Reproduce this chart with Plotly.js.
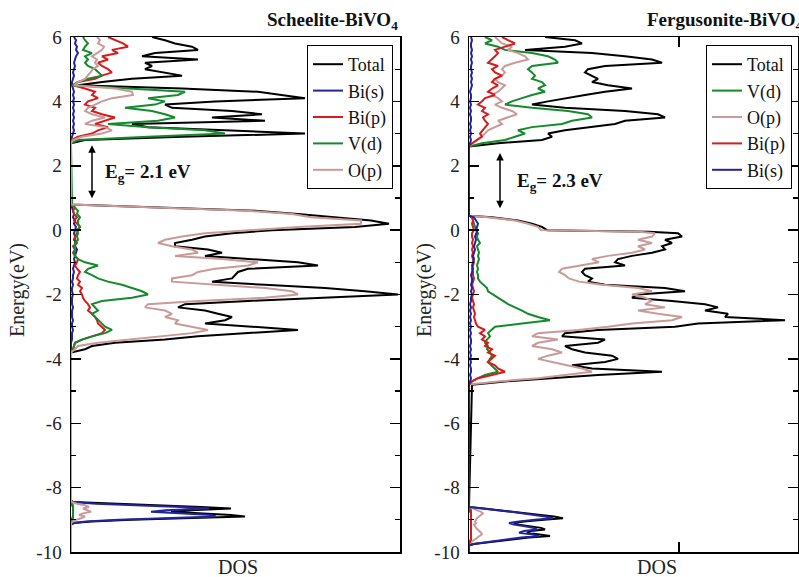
<!DOCTYPE html>
<html>
<head>
<meta charset="utf-8">
<script src="https://cdn.plot.ly/plotly-3.0.1.min.js"></script>
<style>html,body{margin:0;padding:0;background:#fff;}#plot{width:799px;height:577px;}</style>
</head>
<body>
<div id="plot"></div>
<script>
// ---------- Energy grids (eV) ----------
const E_L_BOT = [-9.15,-9.10,-9.05,-9.00,-8.95,-8.90,-8.85,-8.80,-8.75,-8.70,-8.65,-8.60,-8.55,-8.50,-8.45,-8.40];
const E_L_VB = [-3.8,-3.7,-3.6,-3.5,-3.4,-3.3,-3.2,-3.1,-3.0,-2.9,-2.8,-2.7,-2.6,-2.5,-2.4,-2.3,-2.2,-2.1,-2.0,-1.9,-1.8,-1.7,-1.6,-1.5,-1.4,-1.3,-1.2,-1.1,-1.0,-0.9,-0.8,-0.7,-0.6,-0.5,-0.4,-0.3,-0.2,-0.1,0.0,0.1,0.2,0.3,0.4,0.5,0.6,0.7,0.8];
const E_L_CB = [2.7,2.8,2.9,3.0,3.1,3.2,3.3,3.4,3.5,3.6,3.7,3.8,3.9,4.0,4.1,4.2,4.3,4.4,4.5,4.6,4.7,4.8,4.9,5.0,5.1,5.2,5.3,5.4,5.5,5.6,5.7,5.8,5.9,6.0];

const E_R_BOT = [-9.80,-9.75,-9.70,-9.65,-9.60,-9.55,-9.50,-9.45,-9.40,-9.35,-9.30,-9.25,-9.20,-9.15,-9.10,-9.05,-9.00,-8.95,-8.90,-8.85,-8.80,-8.75,-8.70,-8.65,-8.60];
const E_R_VB = [-4.8,-4.7,-4.6,-4.5,-4.4,-4.3,-4.2,-4.1,-4.0,-3.9,-3.8,-3.7,-3.6,-3.5,-3.4,-3.3,-3.2,-3.1,-3.0,-2.9,-2.8,-2.7,-2.6,-2.5,-2.4,-2.3,-2.2,-2.1,-2.0,-1.9,-1.8,-1.7,-1.6,-1.5,-1.4,-1.3,-1.2,-1.1,-1.0,-0.9,-0.8,-0.7,-0.6,-0.5,-0.4,-0.3,-0.2,-0.1,-0.05,0.0,0.1,0.2,0.3,0.4,0.45];
const E_R_CB = [2.6,2.7,2.8,2.9,3.0,3.1,3.2,3.3,3.4,3.5,3.6,3.7,3.8,3.9,4.0,4.1,4.2,4.3,4.4,4.5,4.6,4.7,4.8,4.9,5.0,5.1,5.2,5.3,5.4,5.5,5.6,5.7,5.8,5.9,6.0];

// ---------- Scheelite-BiVO4 DOS (arb. units) ----------
const L_total_bot = [0,3,20,60,120,174,160,130,100,120,160,130,80,30,2,0];
const L_total_vb  = [0,14,21,44,94,127,181,227,181,134,154,161,147,134,107,114,177,261,327,294,254,194,141,161,164,167,177,247,227,181,134,151,137,104,104,121,134,161,201,284,318,300,267,227,184,94,0];
const L_total_cb  = [0,14,111,234,154,77,61,194,141,191,161,101,94,144,234,211,187,111,7,31,61,111,94,74,81,74,127,71,84,127,121,104,94,81];

const L_bis_bot = [0,2,15,48,100,145,140,110,80,95,138,110,65,25,2,0];
const L_bis_vb  = [0,0,0,0,1,1,1,2,1,1,2,1,1,1,2,1,1,1,2,1,1,2,1,2,2,3,2,3,4,3,4,5,6,4,5,3,4,3,4,5,3,4,2,3,2,1,0];
const L_bis_cb  = [0,0,1,2,3,2,3,2,3,2,3,2,3,2,3,2,3,2,1,1,2,3,2,3,4,3,4,5,7,5,6,4,5,3];

const L_bip_bot = [0,0,0,1,1,2,2,2,2,2,2,2,1,1,0,0];
const L_bip_vb  = [0,2,3,4,11,21,31,34,31,27,26,24,21,17,19,17,14,12,11,9,11,7,9,6,7,9,6,4,6,7,4,2,4,2,6,4,4,6,7,9,6,3,6,3,2,4,0];
const L_bip_cb  = [0,0,7,21,27,37,24,34,44,31,21,24,14,17,27,21,24,14,2,7,24,31,41,37,31,27,37,31,47,41,57,52,44,37];

const L_vd_bot = [0,0,0,1,2,2,2,2,2,2,2,2,2,1,0,0];
const L_vd_vb  = [0,2,3,4,11,21,34,41,34,31,27,24,21,27,24,21,31,61,77,71,61,51,37,27,21,14,17,27,14,7,4,3,4,4,4,7,6,7,6,9,7,7,9,6,7,4,1];
const L_vd_cb  = [0,7,77,154,134,77,37,87,104,94,81,54,84,94,77,107,114,61,1,7,17,31,27,24,17,14,17,14,21,12,14,17,14,12];

const L_op_bot = [0,0,2,5,10,14,8,12,20,16,12,18,14,6,1,0];
const L_op_vb  = [0,4,7,27,61,94,121,137,121,104,107,94,101,94,74,77,127,194,227,221,194,144,101,101,121,127,144,177,187,151,104,127,121,101,87,94,111,134,177,227,290,290,240,221,177,77,0];
const L_op_cb  = [0,2,11,31,41,34,14,21,34,21,14,17,24,31,41,62,61,44,3,7,14,17,20,22,27,24,26,21,26,31,33,27,29,26];

// ---------- Fergusonite-BiVO4 DOS (arb. units) ----------
const R_total_bot = [0,5,18,30,45,60,81,70,58,62,76,72,60,50,45,55,75,94,85,72,60,45,30,15,0];
const R_total_vb  = [3,36,83,129,193,123,103,136,149,143,116,103,96,129,136,93,96,129,206,229,316,256,259,236,249,236,203,163,169,216,196,136,119,123,116,113,116,156,146,149,163,183,196,193,203,196,213,209,180,78,73,63,49,23,0];
const R_total_cb  = [0,29,73,83,79,96,123,146,156,196,189,156,96,63,79,96,116,136,163,139,123,129,123,116,119,136,193,183,156,123,56,96,113,106,76];

const R_vd_bot = [0,1,2,2,2,2,2,2,2,2,2,2,2,2,2,2,2,2,2,2,2,2,2,1,0];
const R_vd_vb  = [0,3,9,16,29,26,23,19,21,23,21,18,19,16,18,21,19,23,26,53,81,69,59,53,46,39,34,29,23,19,18,14,11,9,9,8,9,8,9,10,9,10,9,8,11,9,8,9,8,8,6,5,4,3,0];
const R_vd_cb  = [0,13,36,46,56,49,63,93,103,123,119,99,63,36,43,53,63,76,69,76,73,63,66,63,59,63,89,86,79,63,36,29,16,23,16];

const R_op_bot = [0,1,2,4,6,8,10,13,12,10,8,7,6,5,7,6,7,8,10,12,14,12,8,4,0];
const R_op_vb  = [0,29,69,96,123,113,96,83,69,79,93,83,63,69,89,63,69,109,139,163,203,213,189,169,196,176,183,176,163,183,169,133,110,100,96,90,93,113,130,123,139,163,176,169,183,169,183,186,170,72,69,59,46,19,0];
const R_op_cb  = [0,4,9,13,16,19,26,33,29,39,48,43,33,26,33,29,23,29,33,36,29,26,33,36,33,36,46,59,56,49,39,43,33,29,26];

const R_bip_bot = [0,0,1,1,2,2,2,2,2,2,2,2,2,2,2,2,2,2,2,2,2,1,1,0,0];
const R_bip_vb  = [0,3,9,23,36,29,26,19,23,26,19,23,16,19,13,16,11,16,9,7,6,5,6,5,4,5,4,3,4,5,4,3,4,5,4,4,3,4,5,4,3,4,3,4,3,4,3,3,4,5,4,3,4,3,0];
const R_bip_cb  = [0,3,8,13,11,14,16,19,16,14,19,13,16,9,13,16,26,19,23,29,23,26,33,26,23,29,19,23,26,29,26,36,46,39,33];

const R_bis_bot = [0,4,15,26,40,52,70,62,50,55,68,64,56,45,40,50,66,84,76,66,54,42,28,14,0];
const R_bis_vb  = [0,1,2,1,2,2,1,2,1,2,1,2,1,2,2,1,2,1,2,1,2,1,2,1,2,1,2,2,3,2,3,2,3,3,2,3,4,3,4,5,4,5,6,5,6,7,6,7,8,7,8,9,7,5,0];
const R_bis_cb  = [0,1,2,1,2,1,2,1,2,2,1,2,1,2,1,2,2,1,2,3,2,3,2,3,2,2,3,2,3,2,3,2,2,3,2];

// ---------- Labels ----------
const Y_TICKS = [-10,-8,-6,-4,-2,0,2,4,6];
const Y_TICKTEXT = ['-10','-8','-6','-4','-2','0','2','4','6'];
const Y_MINOR = [-9,-7,-5,-3,-1,1,3,5];
const GAP_LABELS = ['E<sub>g</sub>= 2.1 eV','E<sub>g</sub>= 2.3 eV'];
const GAP_L = [0.94, 2.64];   // arrow ends (eV), Scheelite
const GAP_R = [0.63, 2.40];   // arrow ends (eV), Fergusonite
const PANEL_TITLES = ['Scheelite-BiVO<sub>4</sub>','Fergusonite-BiVO<sub>4</sub>'];

const COLORS = {Total:'#000000','Bi(s)':'#23249c','Bi(p)':'#d81a1a','V(d)':'#138a2c','O(p)':'#c99a9a'};

function build(bands){
  const x=[0], y=[-10];
  bands.forEach(([E,v])=>{
    if(E.length!==v.length) console.warn('length mismatch', E.length, v.length);
    for(let i=0;i<E.length;i++){ y.push(E[i]); x.push(v[i]); }
  });
  return {x,y};
}

const leftSeries = [
  ['Total',[L_total_bot,L_total_vb,L_total_cb]],
  ['Bi(s)',[L_bis_bot,L_bis_vb,L_bis_cb]],
  ['Bi(p)',[L_bip_bot,L_bip_vb,L_bip_cb]],
  ['V(d)',[L_vd_bot,L_vd_vb,L_vd_cb]],
  ['O(p)',[L_op_bot,L_op_vb,L_op_cb]]
];
const rightSeries = [
  ['Total',[R_total_bot,R_total_vb,R_total_cb]],
  ['V(d)',[R_vd_bot,R_vd_vb,R_vd_cb]],
  ['O(p)',[R_op_bot,R_op_vb,R_op_cb]],
  ['Bi(p)',[R_bip_bot,R_bip_vb,R_bip_cb]],
  ['Bi(s)',[R_bis_bot,R_bis_vb,R_bis_cb]]
];

const traces = [];
leftSeries.forEach(([name,vals])=>{
  const d = build([[E_L_BOT,vals[0]],[E_L_VB,vals[1]],[E_L_CB,vals[2]]]);
  traces.push({type:'scatter',mode:'lines',x:d.x,y:d.y,name:name,xaxis:'x',yaxis:'y',legend:'legend',
    line:{color:COLORS[name],width:2},hoverinfo:'skip'});
});
rightSeries.forEach(([name,vals])=>{
  const d = build([[E_R_BOT,vals[0]],[E_R_VB,vals[1]],[E_R_CB,vals[2]]]);
  traces.push({type:'scatter',mode:'lines',x:d.x,y:d.y,name:name,xaxis:'x2',yaxis:'y2',legend:'legend2',
    line:{color:COLORS[name],width:2},hoverinfo:'skip'});
});

const W=799, H=577;
const SERIF = 'Liberation Serif';
const xDomL=[71/W,400/W], xDomR=[469/W,798/W], yDom=[1-552/H,1-37/H];

function yAxis(anchor){
  return {domain:yDom, anchor:anchor, range:[-10,6], tickmode:'array', tickvals:Y_TICKS, ticktext:Y_TICKTEXT,
    ticks:'inside', ticklen:10, tickwidth:1.5, tickcolor:'#000', mirror:'allticks', showline:true, linecolor:'#000', linewidth:1.5,
    showgrid:false, zeroline:false, ticklabelstandoff:4,
    minor:{tickmode:'array', tickvals:Y_MINOR, ticks:'inside', ticklen:5, tickwidth:1.2, tickcolor:'#000', showgrid:false},
    tickfont:{family:SERIF,size:19,color:'#222'}};
}
function xAxis(dom, anchor, tickv){
  const a = {domain:dom, anchor:anchor, range:[0,329], showline:true, linecolor:'#000', linewidth:1.5, mirror:'allticks',
    showgrid:false, zeroline:false, showticklabels:false};
  if(tickv){ Object.assign(a,{tickmode:'array', tickvals:tickv, ticks:'inside', ticklen:10, tickwidth:1.5, tickcolor:'#000'}); }
  else { a.ticks=''; }
  return a;
}

const legendBase = {xanchor:'left', yanchor:'top', y:1-45/H, bgcolor:'#fff', bordercolor:'#000', borderwidth:1,
  font:{family:SERIF,size:18,color:'#111'}, tracegroupgap:0};

const txt = {family:SERIF,size:19,color:'#111'};
const axt = {family:SERIF,size:20,color:'#222'};
const annotations = [
  {xref:'paper',yref:'paper',x:400/W,y:1-21/H,xanchor:'right',yanchor:'middle',text:'<b>'+PANEL_TITLES[0]+'</b>',showarrow:false,font:txt},
  {xref:'paper',yref:'paper',x:804/W,y:1-21/H,xanchor:'right',yanchor:'middle',text:'<b>'+PANEL_TITLES[1]+'</b>',showarrow:false,font:txt},
  {xref:'paper',yref:'paper',x:238/W,y:1-567/H,xanchor:'center',yanchor:'middle',text:'DOS',showarrow:false,font:axt},
  {xref:'paper',yref:'paper',x:657/W,y:1-567/H,xanchor:'center',yanchor:'middle',text:'DOS',showarrow:false,font:axt},
  {xref:'paper',yref:'paper',x:17/W,y:1-290/H,xanchor:'center',yanchor:'middle',text:'Energy(eV)',textangle:-90,showarrow:false,font:axt},
  {xref:'paper',yref:'paper',x:424/W,y:1-290/H,xanchor:'center',yanchor:'middle',text:'Energy(eV)',textangle:-90,showarrow:false,font:axt},
  {xref:'x',yref:'y',x:32,y:1.78,xanchor:'left',yanchor:'middle',text:'<b>'+GAP_LABELS[0]+'</b>',showarrow:false,font:txt},
  {xref:'x2',yref:'y2',x:46,y:1.50,xanchor:'left',yanchor:'middle',text:'<b>'+GAP_LABELS[1]+'</b>',showarrow:false,font:txt},
  {xref:'x',yref:'y',axref:'x',ayref:'y',x:21,y:GAP_L[1],ax:21,ay:GAP_L[0],text:'',showarrow:true,arrowside:'end+start',arrowhead:2,arrowsize:1,arrowwidth:1.5,arrowcolor:'#000'},
  {xref:'x2',yref:'y2',axref:'x2',ayref:'y2',x:31,y:GAP_R[1],ax:31,ay:GAP_R[0],text:'',showarrow:true,arrowside:'end+start',arrowhead:2,arrowsize:1,arrowwidth:1.5,arrowcolor:'#000'}
];

const layout = {
  width:W, height:H, margin:{l:0,r:0,t:0,b:0}, paper_bgcolor:'#fff', plot_bgcolor:'#fff',
  font:{family:SERIF},
  showlegend:true,
  xaxis:xAxis(xDomL,'y',null),
  xaxis2:xAxis(xDomR,'y2',[210]),
  yaxis:yAxis('x'),
  yaxis2:yAxis('x2'),
  legend:Object.assign({},legendBase,{x:307/W}),
  legend2:Object.assign({},legendBase,{x:706/W}),
  annotations:annotations
};

Plotly.newPlot('plot', traces, layout, {displayModeBar:false, staticPlot:true});
</script>
</body>
</html>
